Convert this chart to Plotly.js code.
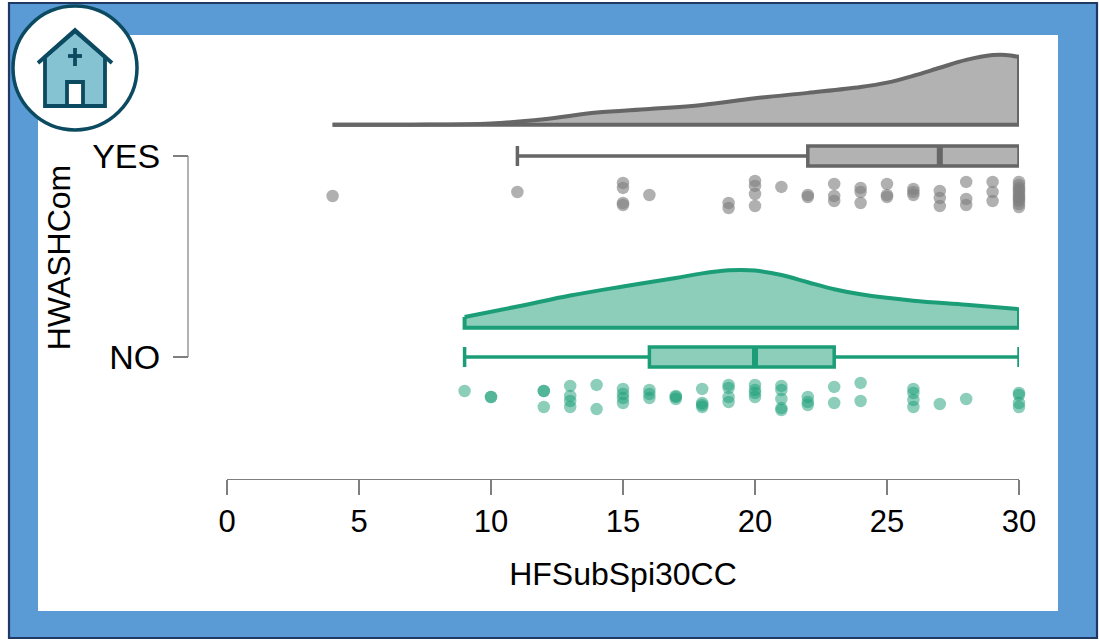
<!DOCTYPE html>
<html><head><meta charset="utf-8">
<script src="https://cdn.plot.ly/plotly-3.0.1.min.js"></script>
<style>html,body{margin:0;padding:0;background:#fff}#chart{width:1099px;height:640px}</style>
</head><body><div id="chart"></div>
<script>
const categories = ['NO', 'YES'];
const categoryPos = [0, 1];
const xTicks = [0, 5, 10, 15, 20, 25, 30];

const yesDensX = [4, 7, 10, 12, 14, 16, 18, 20, 22, 24, 25, 26, 27, 28, 29, 29.5, 30];
const yesDensH = [0, 0, 0.006, 0.027, 0.060, 0.078, 0.098, 0.131, 0.158, 0.187, 0.209, 0.243, 0.283, 0.322, 0.346, 0.347, 0.337];
const noDensX = [9, 11, 13, 15, 17, 18, 19, 19.5, 20, 21, 22, 23, 24, 26, 28, 30];
const noDensH = [0.053, 0.105, 0.160, 0.205, 0.247, 0.270, 0.285, 0.287, 0.284, 0.262, 0.226, 0.191, 0.166, 0.134, 0.114, 0.092];
const yesBase = 1.156, noBase = 0.146;

const yesBox = {low: 11, q1: 22, med: 27, q3: 30, high: 30};
const noBox = {low: 9, q1: 16, med: 20, q3: 23, high: 30};

const yesPtsX = [4, 11, 15, 15, 15, 15, 16, 19, 19, 20, 20, 20, 20, 21, 22, 22, 23, 23, 23, 24, 24, 24, 25, 25, 25, 26, 26, 26, 27, 27, 27, 28, 28, 28, 29, 29, 29, 30, 30, 30, 30, 30, 30, 30, 30, 30, 30, 30];
const yesPtsY = [0.801, 0.821, 0.866, 0.841, 0.766, 0.756, 0.806, 0.766, 0.741, 0.876, 0.851, 0.811, 0.751, 0.846, 0.806, 0.796, 0.861, 0.801, 0.776, 0.841, 0.821, 0.766, 0.861, 0.806, 0.796, 0.836, 0.821, 0.806, 0.826, 0.791, 0.751, 0.871, 0.786, 0.756, 0.871, 0.821, 0.776, 0.871, 0.856, 0.841, 0.831, 0.821, 0.806, 0.796, 0.786, 0.776, 0.761, 0.746];
const noPtsX = [9, 10, 10, 12, 12, 12, 13, 13, 13, 13, 14, 14, 15, 15, 15, 15, 16, 16, 16, 17, 17, 17, 18, 18, 18, 18, 19, 19, 19, 19, 20, 20, 20, 20, 21, 21, 21, 21, 21, 22, 22, 22, 23, 23, 24, 24, 26, 26, 26, 26, 27, 28, 30, 30, 30, 30];
const noPtsY = [-0.169, -0.199, -0.199, -0.169, -0.169, -0.249, -0.144, -0.194, -0.219, -0.249, -0.139, -0.259, -0.159, -0.184, -0.204, -0.229, -0.164, -0.184, -0.204, -0.194, -0.199, -0.209, -0.159, -0.229, -0.239, -0.249, -0.139, -0.154, -0.199, -0.224, -0.139, -0.164, -0.179, -0.199, -0.144, -0.164, -0.209, -0.254, -0.264, -0.199, -0.224, -0.239, -0.149, -0.229, -0.129, -0.219, -0.159, -0.179, -0.214, -0.249, -0.234, -0.209, -0.179, -0.189, -0.229, -0.249];

const GREY = '#666666', GREEN = '#1b9e77';
const W = 1099, H = 640, L = 188, R = 80, T = 36, B = 161;
const px = x => (x - L) / (W - L - R);
const py = y => 1 - (y - T) / (H - T - B);
const P = (x, y) => px(x).toFixed(5) + ' ' + py(y).toFixed(5);
const pathOf = pts => 'M' + pts.map(p => P(p[0], p[1])).join(' L') + ' Z';
const pathOpen = pts => 'M' + pts.map(p => P(p[0], p[1])).join(' L');
const rect = (x0, y0, x1, y1, fill, line) => ({type: 'rect', xref: 'paper', yref: 'paper', layer: 'below', x0: px(x0), x1: px(x1), y0: py(y0), y1: py(y1), fillcolor: fill, line: line});

function cloud(name, xs, hs, base, color) {
  const last = xs.length - 1;
  return [
    {type: 'scatter', mode: 'lines', x: [xs[0], xs[0], xs[last], xs[last]], y: [base + hs[0], base, base, base + hs[last]],
     line: {color: color, width: 4, shape: 'linear'}, showlegend: false, hoverinfo: 'skip', name: name + ' base'},
    {type: 'scatter', mode: 'lines', x: xs, y: hs.map(h => base + h), fill: 'tonexty', fillcolor: color + '80',
     line: {color: color, width: 4, shape: 'spline', smoothing: 1}, showlegend: false, hoverinfo: 'skip', name: name + ' density'}
  ];
}
function box(name, pos, s, color) {
  return [
    {type: 'box', orientation: 'h', y: [pos], q1: [s.q1], median: [s.med], q3: [s.q3], lowerfence: [s.low], upperfence: [s.high],
     width: 0.1, whiskerwidth: 1, boxpoints: false, fillcolor: color + '80', line: {color: color, width: 3.5}, showlegend: false, hoverinfo: 'skip', name: name},
    {type: 'scatter', mode: 'lines', x: [s.med, s.med], y: [pos - 0.05, pos + 0.05], line: {color: color, width: 6}, showlegend: false, hoverinfo: 'skip', name: name + ' median'}
  ];
}
function dots(name, xs, ys, color, alpha) {
  return {type: 'scatter', mode: 'markers', x: xs, y: ys, cliponaxis: false, showlegend: false, hoverinfo: 'skip', name: name,
    marker: {size: 12.5, color: color, opacity: alpha, line: {width: 0}}};
}

const data = [
  ...cloud('YES', yesDensX, yesDensH, yesBase, GREY),
  ...cloud('NO', noDensX, noDensH, noBase, GREEN),
  ...box('YES box', categoryPos[1], yesBox, GREY),
  ...box('NO box', categoryPos[0], noBox, GREEN),
  dots('YES points', yesPtsX, yesPtsY, '#7f7f7f', 0.62),
  dots('NO points', noPtsX, noPtsY, GREEN, 0.5)
];

const NAVY = '#0b4a60';
const layout = {
  width: W, height: H, autosize: false,
  margin: {l: L, r: R, t: T, b: B, pad: 0},
  paper_bgcolor: '#ffffff', plot_bgcolor: 'rgba(0,0,0,0)',
  font: {family: '"Liberation Sans", Arial, sans-serif', color: '#000', size: 30},
  showlegend: false, hovermode: false, boxmode: 'overlay',
  xaxis: {domain: [39 / 831, 1], range: [0, 30], tickmode: 'array', tickvals: xTicks, ticktext: xTicks.map(String),
    showgrid: false, zeroline: false, showline: true, linecolor: '#7f7f7f', linewidth: 1.2,
    ticks: 'outside', ticklen: 15, tickwidth: 1.5, tickcolor: '#7f7f7f', tickfont: {size: 31}, ticklabelstandoff: 0,
    title: {text: 'HFSubSpi30CC', font: {size: 32}, standoff: 24}},
  yaxis: {anchor: 'free', position: 0, range: [-0.607, 1.597], tickmode: 'array', tickvals: categoryPos, ticktext: categories,
    showgrid: false, zeroline: false, showline: false,
    ticks: 'outside', ticklen: 15, tickwidth: 1.5, tickcolor: '#7f7f7f', tickfont: {size: 34}, ticklabelstandoff: 6,
    title: {text: 'HWASHCom', font: {size: 32}, standoff: 10}},
  shapes: [
    rect(9, 3, 1097, 638, '#5b9bd5', {color: '#1f3864', width: 2.2}),
    rect(38, 35, 1058, 611, '#ffffff', {width: 0}),
    {type: 'line', xref: 'paper', yref: 'y', x0: 0, x1: 0, y0: categoryPos[0], y1: categoryPos[1], line: {color: '#7f7f7f', width: 1.2}},
    {type: 'circle', xref: 'paper', yref: 'paper', x0: px(13), x1: px(137), y0: py(6), y1: py(130), fillcolor: '#fff', line: {color: NAVY, width: 3.5}},
    {type: 'path', xref: 'paper', yref: 'paper', path: pathOf([[45, 57], [75, 31], [105, 57], [105, 106], [45, 106]]), fillcolor: '#85c3d3', line: {color: NAVY, width: 3.8}},
    {type: 'path', xref: 'paper', yref: 'paper', path: pathOpen([[38, 63], [75, 30], [112, 63]]), line: {color: NAVY, width: 3.8}},
    {type: 'path', xref: 'paper', yref: 'paper', path: pathOf([[67, 106], [67, 82], [83, 82], [83, 106]]), fillcolor: '#fff', line: {color: NAVY, width: 3.8}},
    {type: 'path', xref: 'paper', yref: 'paper', path: pathOpen([[75, 48], [75, 66]]), line: {color: NAVY, width: 3.8}},
    {type: 'path', xref: 'paper', yref: 'paper', path: pathOpen([[68, 56], [82, 56]]), line: {color: NAVY, width: 3.8}}
  ]
};
Plotly.newPlot('chart', data, layout, {displayModeBar: false, responsive: false, staticPlot: true});
</script></body></html>
